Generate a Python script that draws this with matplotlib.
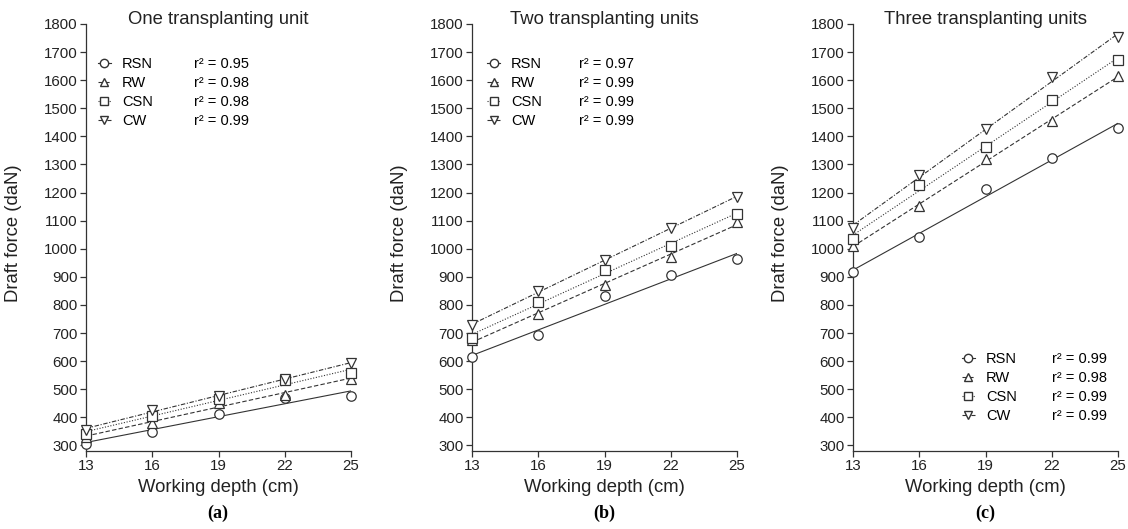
import numpy as np
import matplotlib
matplotlib.use("Agg")
import matplotlib.pyplot as plt
from matplotlib.lines import Line2D

plt.rcParams['font.family'] = ['Liberation Sans', 'DejaVu Sans']

depth = [13, 16, 19, 22, 25]
treatments = ["RSN", "RW", "CSN", "CW"]

# draft force (daN)
one_rsn = [306, 348, 413, 469, 475]
one_rw = [330, 381, 452, 481, 538]
one_csn = [342, 405, 465, 532, 556]
one_cw = [356, 425, 477, 538, 592]

two_rsn = [615, 694, 830, 908, 962]
two_rw = [674, 769, 872, 971, 1096]
two_csn = [684, 811, 926, 1009, 1125]
two_cw = [728, 849, 959, 1074, 1185]

three_rsn = [918, 1043, 1211, 1323, 1431]
three_rw = [1010, 1153, 1319, 1454, 1615]
three_csn = [1033, 1226, 1363, 1528, 1671]
three_cw = [1074, 1262, 1425, 1610, 1752]

one_r2 = ["0.95", "0.98", "0.98", "0.99"]
two_r2 = ["0.97", "0.99", "0.99", "0.99"]
three_r2 = ["0.99", "0.98", "0.99", "0.99"]

titles = ["One transplanting unit", "Two transplanting units", "Three transplanting units"]
panel_labels = ["(a)", "(b)", "(c)"]

markers = ["o", "^", "s", "v"]
styles = ["-", (0, (4, 2)), (0, (1, 1.5)), (0, (4, 1.5, 1, 1.5))]
col = "#333333"

panels = [
    ([one_rsn, one_rw, one_csn, one_cw], one_r2),
    ([two_rsn, two_rw, two_csn, two_cw], two_r2),
    ([three_rsn, three_rw, three_csn, three_cw], three_r2),
]

lefts = [86, 472, 853]
# legend anchors (axes coords): names x, r2 x, top y
leg_pos = [(0.045, 0.406, 0.923), (0.057, 0.404, 0.923), (0.411, 0.751, 0.232)]

fig = plt.figure(figsize=(11.28, 5.29), dpi=100)
W, H = 1128, 529

for i, (series, r2) in enumerate(panels):
    ax = fig.add_axes([lefts[i] / W, (H - 451) / H, 265 / W, 427 / H])
    x = np.array(depth)
    for y, m, ls in zip(series, markers, styles):
        k, b = np.polyfit(x, y, 1)
        ax.plot(x, k * x + b, color=col, lw=0.8, ls=ls)
        ax.plot(x, y, ls="none", marker=m, ms=6.8, mfc="white", mec=col, mew=0.9, clip_on=False, zorder=3)

    ax.set_xlim(13, 25)
    ax.set_ylim(280, 1800)
    ax.set_xticks(depth)
    ax.set_yticks(range(300, 1801, 100))
    for s in ["top", "right"]:
        ax.spines[s].set_visible(False)
    for s in ["left", "bottom"]:
        ax.spines[s].set_color(col)
        ax.spines[s].set_linewidth(0.9)
    ax.tick_params(direction="out", length=4, width=0.9, color=col, labelsize=10.8,
                   labelcolor="#222222", pad=2)

    ax.set_xlabel("Working depth (cm)", fontsize=13.3, color="#222222", labelpad=4)
    ax.set_ylabel("Draft force (daN)", fontsize=13.3, color="#222222")
    ax.yaxis.set_label_coords(-64 / 265, 0.51)

    ax.text(0.5, 1.01, titles[i], transform=ax.transAxes, ha="center", va="center",
            fontsize=13.3, color="#222222")

    handles = [Line2D([], [], color=col, lw=0.8, ls=ls, marker=m, ms=6, mfc="white", mec=col)
               for m, ls in zip(markers, styles)]
    nx, rx, ty = leg_pos[i]
    leg1 = ax.legend(handles, treatments, loc="upper left", bbox_to_anchor=(nx, ty),
                     frameon=False, fontsize=10.5, handlelength=0.9, handletextpad=0.75,
                     borderpad=0, borderaxespad=0, labelspacing=0.35)
    ax.add_artist(leg1)
    blank = [Line2D([], [], ls="none") for _ in treatments]
    ax.legend(blank, ["r\u00b2 = " + v for v in r2], loc="upper left", bbox_to_anchor=(rx, ty),
              frameon=False, fontsize=10.5, handlelength=0, handletextpad=0,
              borderpad=0, borderaxespad=0, labelspacing=0.35)

    fig.text((lefts[i] + 132) / W, 1 - 513 / H, panel_labels[i], ha="center", va="center",
             fontsize=13, fontweight="bold", family="Liberation Serif")

plt.savefig("out.png", dpi=100)
